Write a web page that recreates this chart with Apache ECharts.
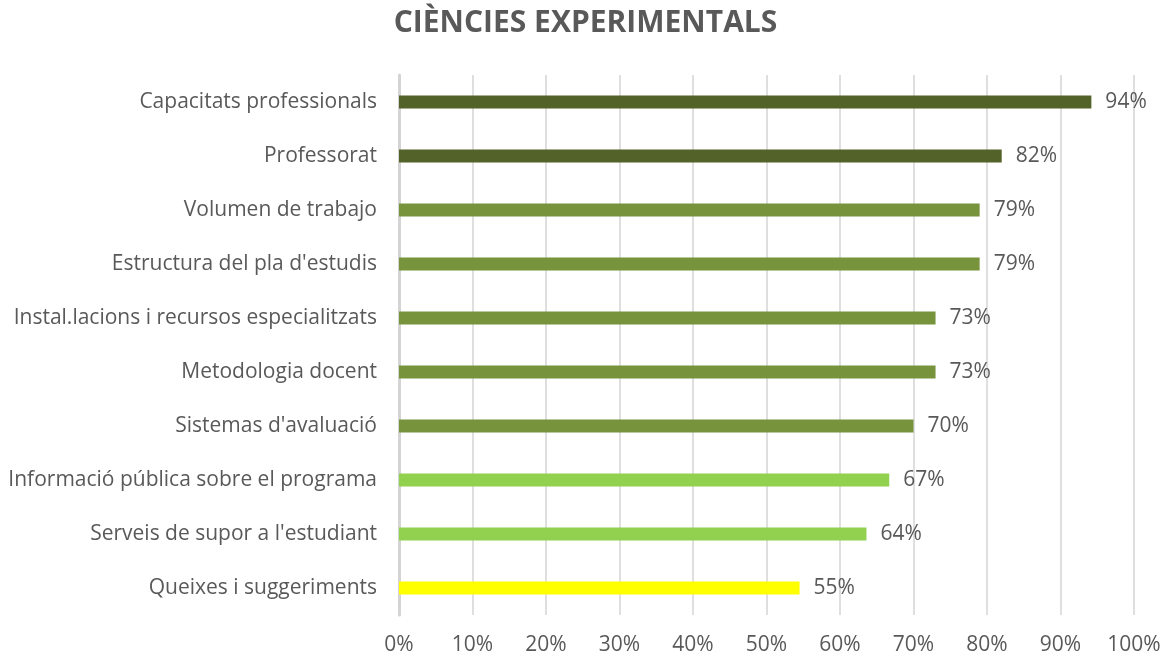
<html>
<head>
    <meta charset="utf-8">
    <title>Ciències experimentals</title>
    <script src="https://cdn.jsdelivr.net/npm/echarts@6/dist/echarts.min.js"></script>
    <style>
        body { margin: 0; background: #fff; }
    </style>
</head>
<body>
    <div id="chart" style="width:1171px;height:658px;"></div>
    <script>
        // dades llegides del gràfic (de dalt a baix)
        var categories = [
            'Capacitats professionals',
            'Professorat',
            'Volumen de trabajo',
            "Estructura del pla d'estudis",
            'Instal.lacions i recursos especialitzats',
            'Metodologia docent',
            "Sistemas d'avaluació",
            'Informació pública sobre el programa',
            "Serveis de supor a l'estudiant",
            'Queixes i suggeriments'
        ];
        var values = [94.2, 82, 79, 79, 73, 73, 70, 66.7, 63.6, 54.5];
        var barColors = ['#526228', '#526228', '#77933C', '#77933C', '#77933C', '#77933C', '#77933C', '#92D050', '#92D050', '#FFFF00'];

        var data = [];
        for (var i = 0; i < values.length; i++) {
            data.push({ value: values[i], itemStyle: { color: barColors[i] } });
        }

        var txt = '#595959';
        var myChart = echarts.init(document.getElementById('chart'));
        var option = {
            backgroundColor: '#ffffff',
            animation: false,
            title: {
                text: 'CIÈNCIES EXPERIMENTALS',
                left: 'center',
                top: 3,
                textStyle: {
                    fontFamily: 'Open Sans',
                    fontWeight: 'bold',
                    fontSize: 30,
                    color: txt
                }
            },
            grid: {
                left: 399,
                right: 37,
                top: 75,
                bottom: 43
            },
            xAxis: {
                type: 'value',
                min: 0,
                max: 100,
                interval: 10,
                axisLine: { show: false },
                axisTick: { show: false },
                axisLabel: {
                    formatter: '{value}%',
                    color: txt,
                    fontFamily: 'Open Sans',
                    fontSize: 21,
                    margin: 20
                },
                splitLine: {
                    lineStyle: { color: '#D4D4D4', width: 1.5 }
                }
            },
            yAxis: {
                type: 'category',
                data: categories,
                inverse: true,
                axisTick: { show: false },
                axisLine: {
                    lineStyle: { color: '#D4D4D4', width: 3 }
                },
                axisLabel: {
                    color: txt,
                    fontFamily: 'Open Sans',
                    fontSize: 21,
                    margin: 22
                }
            },
            series: [{
                type: 'bar',
                data: data,
                barWidth: 13,
                label: {
                    show: true,
                    position: 'right',
                    distance: 14,
                    color: txt,
                    fontFamily: 'Open Sans',
                    fontSize: 21,
                    formatter: function (p) { return Math.round(p.value) + '%'; }
                }
            }]
        };
        myChart.setOption(option);
    </script>
</body>
</html>
